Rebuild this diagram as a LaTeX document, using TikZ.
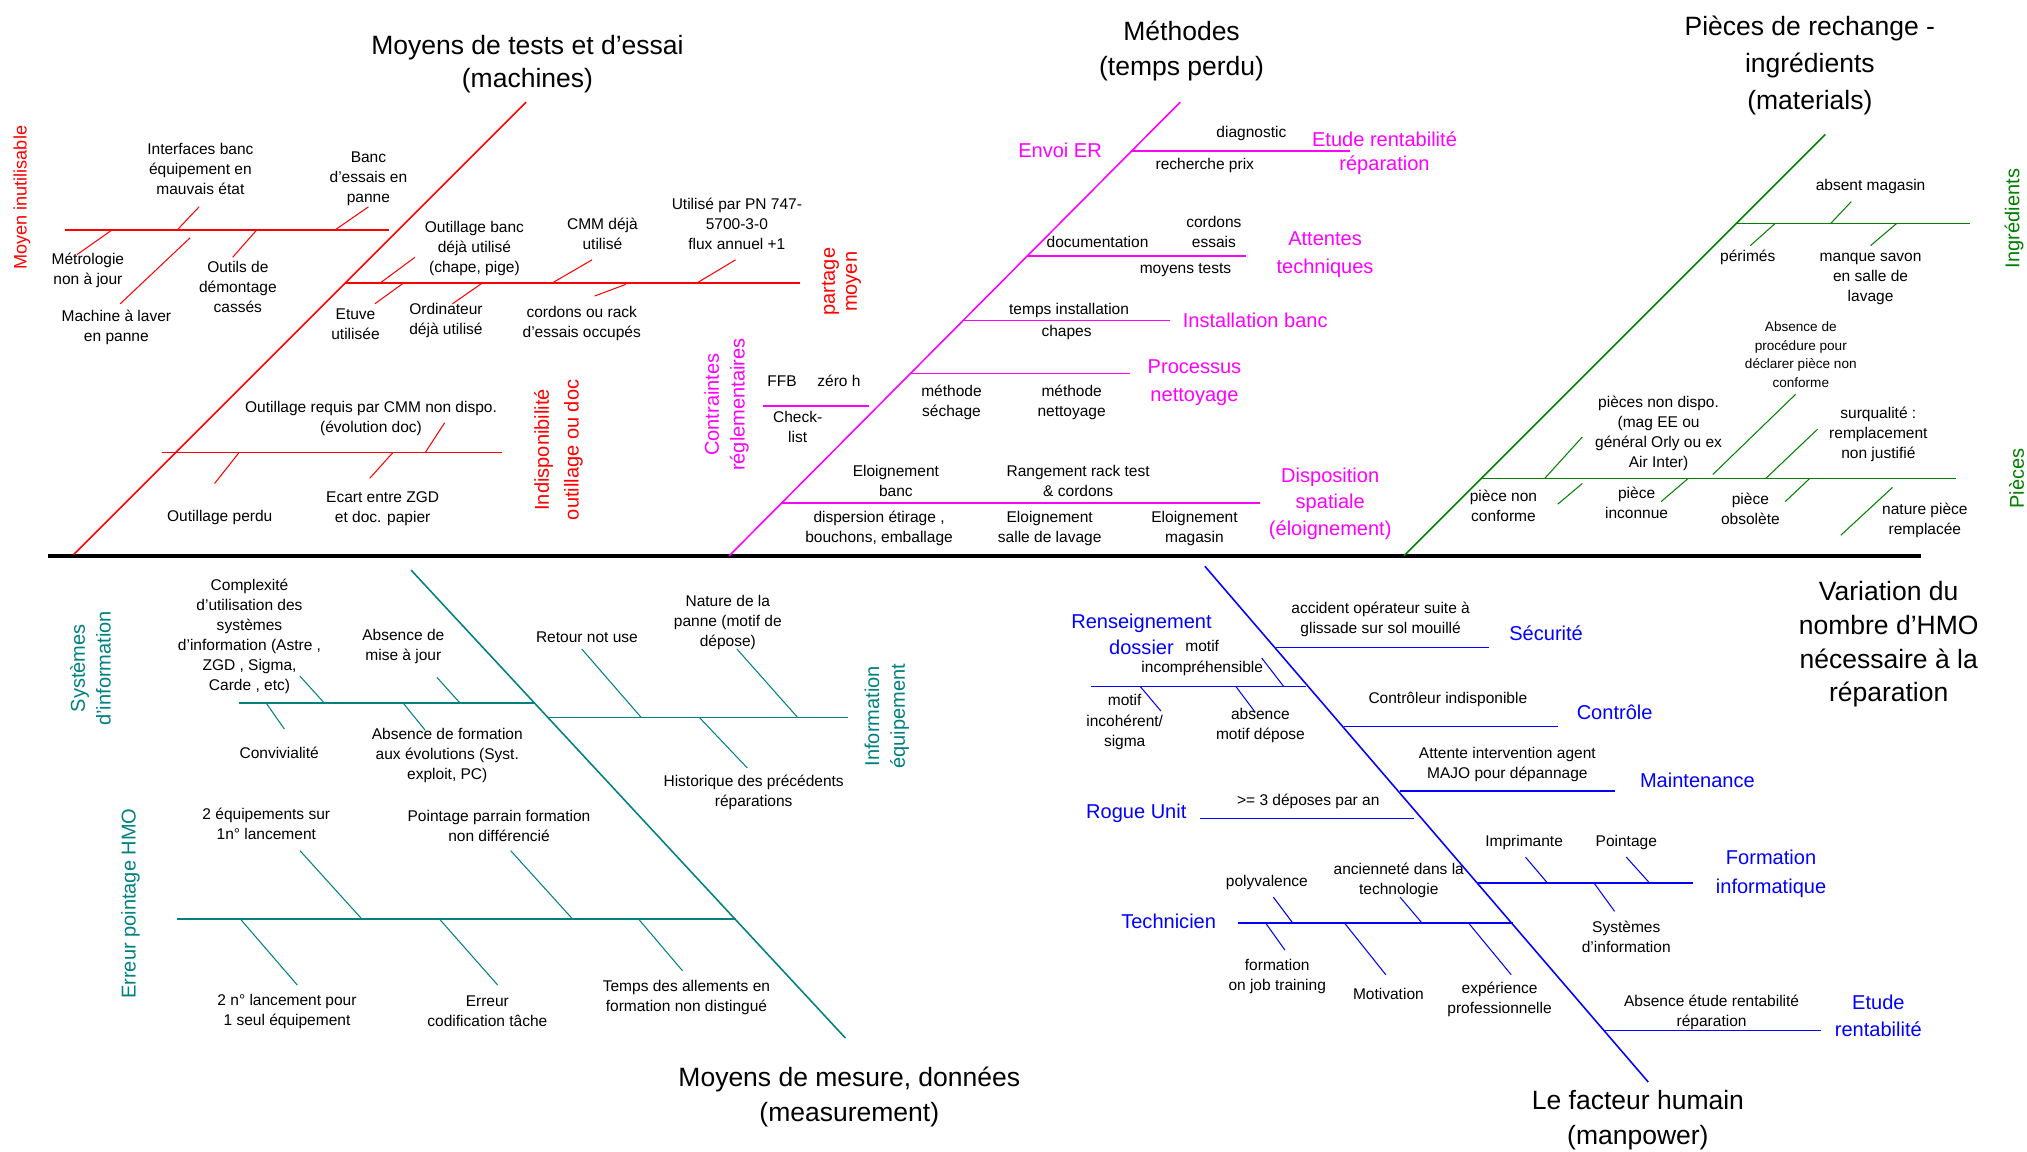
\documentclass[tikz,border=0pt]{standalone}
\usepackage{fontspec}
\setmainfont{Liberation Sans}
\definecolor{cR}{RGB}{255,0,0}
\definecolor{cM}{RGB}{255,0,255}
\definecolor{cG}{RGB}{0,128,0}
\definecolor{cT}{RGB}{0,128,128}
\definecolor{cB}{RGB}{0,0,255}
\tikzset{
 sm/.style={font=\fontsize{12}{15.5}\selectfont, align=center, inner sep=0pt},
 big/.style={font=\fontsize{20.5}{27}\selectfont, align=center, inner sep=0pt},
 lab/.style={font=\fontsize{15.5}{20}\selectfont, align=center, inner sep=0pt},
 vlab/.style={lab, rotate=90},
 bone/.style={line width=1.2pt},
 twig/.style={line width=0.8pt},
}
\begin{document}
\begin{tikzpicture}[x=1pt,y=-1pt]
\fill[white] (0,0) rectangle (1568,891);
\useasboundingbox (0,0) rectangle (1568,891);

% ---------------- spine
\coordinate (sp1) at (37,430); \coordinate (sp2) at (1486,430);
\draw[line width=3pt] (sp1) -- (sp2);

% ================= RED : Moyens de tests
\node[big, font=\fontsize{20.5}{25}\selectfont] (tR) at (408,49.5) {Moyens de tests et d'essai\\(machines)};
\coordinate (rd1) at (57,429); \coordinate (rd2) at (407,79);
\draw[bone,cR] (rd1) -- (rd2);
% bone A
\coordinate (rA1) at (50,178); \coordinate (rA2) at (301,178);
\draw[bone,cR] (rA1) -- (rA2);
\node[vlab,text=cR,font=\fontsize{14}{18}\selectfont] (lRA) at (17,153) {Moyen inutilisable};
\draw[twig,cR] (137,178) -- (154,160);
\draw[twig,cR] (259,178) -- (285,160);
\draw[twig,cR] (86.5,178) -- (59.5,197);
\draw[twig,cR] (198.5,178) -- (180,199);
\draw[twig,cR] (147,184) -- (93,235);
\node[sm] (r1) at (155,131) {Interfaces banc\\équipement en\\mauvais état};
\node[sm] (r2) at (285,138) {Banc\\d'essais en\\panne};
\node[sm] (r3) at (68,209) {Métrologie\\non à jour};
\node[sm] (r4) at (184,222) {Outils de\\démontage\\cassés};
\node[sm] (r5) at (90,253) {Machine à laver\\en panne};
% bone B
\coordinate (rB1) at (267,219); \coordinate (rB2) at (619,219);
\draw[bone,cR] (rB1) -- (rB2);
\node[vlab,text=cR,font=\fontsize{15.5}{17}\selectfont] (lRB) at (651,218) {partage\\moyen};
\draw[twig,cR] (294,219) -- (321,199);
\draw[twig,cR] (427,219) -- (458,201);
\draw[twig,cR] (539,219) -- (569,201);
\draw[twig,cR] (312,219) -- (290,235);
\draw[twig,cR] (373,219) -- (350,235);
\draw[twig,cR] (484,220) -- (460,229);
\node[sm] (r6) at (367,192) {Outillage banc\\déjà utilisé\\(chape, pige)};
\node[sm] (r7) at (466,181) {CMM déjà\\utilisé};
\node[sm] (r8) at (570,173) {Utilisé par PN 747-\\5700-3-0\\flux annuel +1};
\node[sm] (r9) at (275,251) {Etuve\\utilisée};
\node[sm] (r10) at (345,248) {Ordinateur\\déjà utilisé};
\node[sm] (r11) at (450,250) {cordons ou rack\\d'essais occupés};
% bone C
\coordinate (rC1) at (125,350); \coordinate (rC2) at (388,350);
\draw[bone,cR] (rC1) -- (rC2);
\node[vlab,text=cR,font=\fontsize{15.5}{23}\selectfont] (lRC) at (432,348) {Indisponibilité\\outillage ou doc};
\draw[twig,cR] (329,350) -- (344,327);
\draw[twig,cR] (185,350) -- (166,374);
\draw[twig,cR] (304,350) -- (286,370);
\node[sm] (r12) at (287,323.5) {Outillage requis par CMM non dispo.\\(évolution doc)};
\node[sm] (r13) at (170,400) {Outillage perdu};
\node[sm] (r14) at (296,393.5) {Ecart entre ZGD\\et doc. papier};

% ================= MAGENTA : Méthodes
\node[big] (tM) at (914,39.5) {Méthodes\\(temps perdu)};
\coordinate (md1) at (564,430); \coordinate (md2) at (913,79);
\draw[bone,cM] (md1) -- (md2);
\coordinate (mA1) at (875,117); \coordinate (mA2) at (1044,117);
\draw[bone,cM] (mA1) -- (mA2);
\coordinate (mB1) at (795,198); \coordinate (mB2) at (964,198);
\draw[bone,cM] (mB1) -- (mB2);
\coordinate (mC1) at (744,248); \coordinate (mC2) at (905,248);
\draw[bone,cM] (mC1) -- (mC2);
\coordinate (mD1) at (704,289); \coordinate (mD2) at (874,289);
\draw[bone,cM] (mD1) -- (mD2);
\coordinate (mE1) at (590,314); \coordinate (mE2) at (672,314);
\draw[bone,cM] (mE1) -- (mE2);
\coordinate (mF1) at (605,389); \coordinate (mF2) at (975,389);
\draw[bone,cM] (mF1) -- (mF2);
\node[lab,text=cM] (m1) at (820,116) {Envoi ER};
\node[lab,text=cM,font=\fontsize{15.5}{19}\selectfont] (m2) at (1071,118.5) {Etude rentabilité\\réparation};
\node[sm] (m3) at (968,103) {diagnostic};
\node[sm] (m4) at (932,128) {recherche prix};
\node[sm] (m5) at (849,187) {documentation};
\node[sm] (m6) at (939,179.5) {cordons\\essais};
\node[sm] (m7) at (917,209) {moyens tests};
\node[lab,text=cM,font=\fontsize{15.5}{22}\selectfont] (m8) at (1025,197) {Attentes\\techniques};
\node[sm] (m9) at (827,240) {temps installation};
\node[sm] (m10) at (825,257) {chapes};
\node[lab,text=cM] (m11) at (971,248) {Installation banc};
\node[lab,text=cM,font=\fontsize{15.5}{22}\selectfont] (m12) at (924,296) {Processus\\nettoyage};
\node[sm] (m13) at (736,311) {méthode\\séchage};
\node[sm] (m14) at (829,311) {méthode\\nettoyage};
\node[sm] (m15) at (605,295) {FFB};
\node[sm] (m16) at (649,295) {zéro h};
\node[sm] (m17) at (617,330.5) {Check-\\list};
\node[vlab,text=cM] (m18) at (562,313) {Contraintes\\réglementaires};
\node[sm] (m19) at (693,372) {Eloignement\\banc};
\node[sm] (m20) at (834,372) {Rangement rack test\\\& cordons};
\node[sm] (m21) at (680,408.5) {dispersion étirage ,\\bouchons, emballage};
\node[sm] (m22) at (812,408.5) {Eloignement\\salle de lavage};
\node[sm] (m23) at (924,408.5) {Eloignement\\magasin};
\node[lab,text=cM,font=\fontsize{15.5}{20.5}\selectfont] (m24) at (1029,389.5) {Disposition\\spatiale\\(éloignement)};

% ================= GREEN : Pièces de rechange
\node[big, font=\fontsize{20.5}{28.5}\selectfont] (tG) at (1400,50.5) {Pièces de rechange -\\ingrédients\\(materials)};
\coordinate (gd1) at (1086,430); \coordinate (gd2) at (1412,104);
\draw[bone,cG] (gd1) -- (gd2);
\coordinate (gA1) at (1343,173); \coordinate (gA2) at (1524,173);
\draw[bone,cG] (gA1) -- (gA2);
\coordinate (gB1) at (1146,370); \coordinate (gB2) at (1513,370);
\draw[bone,cG] (gB1) -- (gB2);
\node[vlab,text=cG] (lGA) at (1558,169) {Ingrédients};
\node[vlab,text=cG] (lGB) at (1560,370) {Pièces};
\draw[twig,cG] (1416,173) -- (1432,156);
\draw[twig,cG] (1373,173) -- (1354,190);
\draw[twig,cG] (1467,173) -- (1447,190);
\node[sm] (g1) at (1447,144) {absent magasin};
\node[sm] (g2) at (1352,199) {périmés};
\node[sm] (g3) at (1447,216) {manque savon\\en salle de\\lavage};
\draw[twig,cG] (1195,370) -- (1224,338);
\draw[twig,cG] (1325,367) -- (1389,305);
\draw[twig,cG] (1366,370) -- (1406,332);
\draw[twig,cG] (1224,374) -- (1205,390);
\draw[twig,cG] (1306,370) -- (1285,388);
\draw[twig,cG] (1400,370) -- (1381,388);
\draw[twig,cG] (1464,377) -- (1424,414);
\node[sm] (g4) at (1283,335.5) {pièces non dispo.\\(mag EE ou\\général Orly ou ex\\Air Inter)};
\node[sm, font=\fontsize{10.5}{14.3}\selectfont] (g5) at (1393,274.5) {Absence de\\procédure pour\\déclarer pièce non\\conforme};
\node[sm] (g6) at (1453,336) {surqualité :\\remplacement\\non justifié};
\node[sm] (g7) at (1163,391.5) {pièce non\\conforme};
\node[sm] (g8) at (1266,389) {pièce\\inconnue};
\node[sm] (g9) at (1354,394) {pièce\\obsolète};
\node[sm] (g10) at (1489,402.5) {nature pièce\\remplacée};

% ================= TEAL : Moyens de mesure
\node[big] (tT) at (657,848.5) {Moyens de mesure, données\\(measurement)};
\coordinate (td1) at (318,441); \coordinate (td2) at (654,803);
\draw[bone,cT] (td1) -- (td2);
\coordinate (tA1) at (185,544); \coordinate (tA2) at (414,544);
\draw[bone,cT,line width=1.5pt] (tA1) -- (tA2);
\coordinate (tB1) at (424,555); \coordinate (tB2) at (656,555);
\draw[bone,cT,line width=1.5pt] (tB1) -- (tB2);
\coordinate (tC1) at (137,711); \coordinate (tC2) at (569,711);
\draw[bone,cT,line width=1.5pt] (tC1) -- (tC2);
\node[vlab,text=cT] (lTA) at (70,517) {Systèmes\\d'information};
\node[vlab,text=cT] (lTB) at (686,554) {Information\\équipement};
\node[vlab,text=cT] (lTC) at (101,699) {Erreur pointage HMO};
\draw[twig,cT] (251,544) -- (232,523);
\draw[twig,cT] (356,544) -- (338,524);
\draw[twig,cT] (206,544) -- (220,564);
\draw[twig,cT] (312,544) -- (329,565);
\node[sm] (t1) at (193,492.5) {Complexité\\d'utilisation des\\systèmes\\d'information (Astre ,\\ZGD , Sigma,\\Carde , etc)};
\node[sm] (t2) at (312,500) {Absence de\\mise à jour};
\node[sm] (t3) at (216,582) {Convivialité};
\node[sm] (t4) at (346,584.5) {Absence de formation\\aux évolutions (Syst.\\exploit, PC)};
\draw[twig,cT] (496,555) -- (450,502);
\draw[twig,cT] (617,555) -- (570,502);
\draw[twig,cT] (541,555) -- (578,594);
\node[sm] (t5) at (454,493) {Retour not use};
\node[sm] (t6) at (563,481.5) {Nature de la\\panne (motif de\\dépose)};
\node[sm] (t7) at (583,613) {Historique des précédents\\réparations};
\draw[twig,cT] (280,711) -- (232,658);
\draw[twig,cT] (443,711) -- (395,658);
\draw[twig,cT] (186,711) -- (230,762);
\draw[twig,cT] (340,711) -- (385,762);
\draw[twig,cT] (494,711) -- (528,751);
\node[sm] (t8) at (206,637) {2 équipements sur\\1n° lancement};
\node[sm] (t9) at (386,639) {Pointage parrain formation\\non différencié};
\node[sm] (t10) at (222,782.5) {2 n° lancement pour\\1 seul équipement};
\node[sm] (t11) at (377,782.5) {Erreur\\codification tâche};
\node[sm] (t12) at (531,771.5) {Temps des allements en\\formation non distingué};

% ================= BLUE : facteur humain
\node[big] (tB) at (1267,866.5) {Le facteur humain\\(manpower)};
\node[big, font=\fontsize{20.5}{26}\selectfont] (tV) at (1461,498.5) {Variation du\\nombre d'HMO\\nécessaire à la\\réparation};
\coordinate (bd1) at (932,438); \coordinate (bd2) at (1275,837);
\draw[bone,cB] (bd1) -- (bd2);
\coordinate (bA1) at (987,501); \coordinate (bA2) at (1152,501);
\draw[bone,cB] (bA1) -- (bA2);
\coordinate (bB1) at (844,531); \coordinate (bB2) at (1010,531);
\draw[bone,cB] (bB1) -- (bB2);
\coordinate (bC1) at (1040,562); \coordinate (bC2) at (1205,562);
\draw[bone,cB] (bC1) -- (bC2);
\coordinate (bD1) at (1083,612); \coordinate (bD2) at (1249,612);
\draw[bone,cB] (bD1) -- (bD2);
\coordinate (bE1) at (928,633); \coordinate (bE2) at (1094,633);
\draw[bone,cB] (bE1) -- (bE2);
\coordinate (bF1) at (1143,683); \coordinate (bF2) at (1310,683);
\draw[bone,cB] (bF1) -- (bF2);
\coordinate (bG1) at (958,714); \coordinate (bG2) at (1170,714);
\draw[bone,cB] (bG1) -- (bG2);
\coordinate (bH1) at (1241,797); \coordinate (bH2) at (1409,797);
\draw[bone,cB] (bH1) -- (bH2);
\node[lab,text=cB] (lB1) at (1196,490) {Sécurité};
\node[lab,text=cB] (lB2) at (883,491) {Renseignement\\dossier};
\node[lab,text=cB] (lB3) at (1249,551) {Contrôle};
\node[lab,text=cB] (lB4) at (1313,604) {Maintenance};
\node[lab,text=cB] (lB5) at (879,629) {Rogue Unit};
\node[lab,text=cB,font=\fontsize{15.5}{22}\selectfont] (lB6) at (1370,676) {Formation\\informatique};
\node[lab,text=cB] (lB7) at (904,713) {Technicien};
\node[lab,text=cB,font=\fontsize{15.5}{21}\selectfont] (lB8) at (1453,785.5) {Etude\\rentabilité};
\draw[twig,cB] (993,531) -- (976,509);
\draw[twig,cB] (882,531) -- (898,550);
\draw[twig,cB] (956,531) -- (971,551);
\node[sm] (b1) at (1068,479) {accident opérateur suite à\\glissade sur sol mouillé};
\node[sm] (b2) at (930,509) {motif\\incompréhensible};
\node[sm] (b3) at (870,558.5) {motif\\incohérent/\\sigma};
\node[sm] (b4) at (975,561) {absence\\motif dépose};
\node[sm] (b5) at (1120,541) {Contrôleur indisponible};
\node[sm] (b6) at (1166,591.5) {Attente intervention agent\\MAJO pour dépannage};
\node[sm] (b7) at (1012,620) {>= 3 déposes par an};
\draw[twig,cB] (1197,683) -- (1180,663);
\draw[twig,cB] (1276,683) -- (1258,663);
\draw[twig,cB] (1233,683) -- (1249,705);
\node[sm] (b8) at (1179,652) {Imprimante};
\node[sm] (b9) at (1258,652) {Pointage};
\node[sm] (b10) at (1258,725) {Systèmes\\d'information};
\draw[twig,cB] (1000,714) -- (985,694);
\draw[twig,cB] (1100,714) -- (1083,694);
\draw[twig,cB] (979,714) -- (994,735);
\draw[twig,cB] (1040,714) -- (1072,754);
\draw[twig,cB] (1136,714) -- (1169,754);
\node[sm] (b11) at (980,683) {polyvalence};
\node[sm] (b12) at (1082,681) {ancienneté dans la\\technologie};
\node[sm] (b13) at (988,755.5) {formation\\on job training};
\node[sm] (b14) at (1074,769) {Motivation};
\node[sm] (b15) at (1160,773) {expérience\\professionnelle};
\node[sm] (b16) at (1324,783) {Absence étude rentabilité\\réparation};
\end{tikzpicture}
\end{document}
